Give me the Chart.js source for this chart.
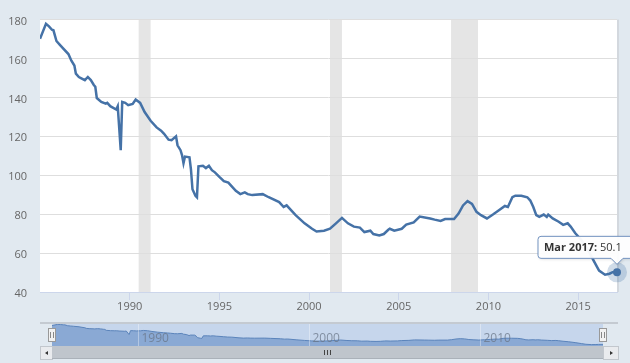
<!DOCTYPE html>
<html>
<head>
<meta charset="utf-8">
<script src="https://cdn.jsdelivr.net/npm/chart.js@4.4.0/dist/chart.umd.min.js"></script>
<style>
  html, body { margin: 0; padding: 0; background: #e1e9f0; }
  #wrap { position: relative; width: 630px; height: 363px; overflow: hidden; }
  #main { position: absolute; left: 0; top: 0; }
  #nav { position: absolute; left: 52px; top: 324px; }
  #outline { position: absolute; left: 40px; top: 322px; width: 578px; border-top: 2px solid #c4cad1; }
  .btn { position: absolute; top: 346px; height: 12px; background: #e9ebee; border: 1px solid #c2c7cd; box-sizing: content-box; }
  #btnLeft { left: 40px; width: 11px; }
  #btnRight { left: 603px; width: 14px; }
  .arrow { position: absolute; top: 4px; width: 0; height: 0; border-top: 2.5px solid transparent; border-bottom: 2.5px solid transparent; }
  #btnLeft .arrow { left: 4px; border-right: 3px solid #333; }
  #btnRight .arrow { left: 6px; border-left: 3px solid #333; }
  #track { position: absolute; left: 52px; top: 346px; width: 551px; height: 12px; background: #bfc5cc; border-bottom: 1px solid #aab1b9; }
  #grip { position: absolute; left: 272px; top: 4px; width: 7px; height: 5px;
          background: repeating-linear-gradient(90deg, #444 0 1px, transparent 1px 3px); }
  .handle { position: absolute; width: 6px; height: 12px; background: #f2f2f2; border: 1px solid #999; }
  .handle::before, .handle::after { content: ''; position: absolute; top: 3px; width: 1px; height: 6px; background: #888; }
  .handle::before { left: 1px; }
  .handle::after { left: 4px; }
  #handleL { left: 48px; top: 328px; }
  #handleR { left: 599px; top: 328px; }
</style>
</head>
<body>
<div id="wrap">
  <canvas id="main" width="630" height="363"></canvas>
  <div id="outline"></div>
  <canvas id="nav" width="551" height="22"></canvas>
  <div class="btn" id="btnLeft"><div class="arrow"></div></div>
  <div id="track"><div id="grip"></div></div>
  <div class="btn" id="btnRight"><div class="arrow"></div></div>
  <div class="handle" id="handleL"></div>
  <div class="handle" id="handleR"></div>
</div>
<script>
// ------------------------------------------------------
// data
// ------------------------------------------------------
const months = [
  '1985-01', '1985-05', '1985-07', '1985-09', '1985-10', '1985-12',
  '1986-02', '1986-04', '1986-08', '1986-10', '1986-12',
  '1987-01', '1987-03', '1987-05', '1987-07', '1987-09', '1987-11',
  '1988-01', '1988-02', '1988-03', '1988-06', '1988-09', '1988-10', '1988-12',
  '1989-04', '1989-05', '1989-07', '1989-08', '1989-10', '1989-12',
  '1990-03', '1990-05', '1990-08', '1990-11',
  '1991-03', '1991-07', '1991-10', '1991-12',
  '1992-03', '1992-05', '1992-08', '1992-09', '1992-11', '1992-12',
  '1993-01', '1993-02', '1993-05', '1993-06', '1993-07', '1993-09', '1993-10', '1993-11',
  '1994-02', '1994-04', '1994-06', '1994-08', '1994-10',
  '1995-01', '1995-04', '1995-07', '1995-12',
  '1996-03', '1996-06', '1996-08', '1996-11',
  '1997-06', '1997-10',
  '1998-05', '1998-08', '1998-10',
  '1999-04', '1999-10',
  '2000-03', '2000-06', '2000-11',
  '2001-03', '2001-07', '2001-11',
  '2002-03', '2002-07', '2002-11',
  '2003-02', '2003-06', '2003-08', '2003-12',
  '2004-03', '2004-06', '2004-07', '2004-10',
  '2005-03', '2005-06', '2005-11',
  '2006-03', '2006-10',
  '2007-01', '2007-05', '2007-08',
  '2008-02', '2008-05', '2008-08', '2008-11',
  '2009-02', '2009-05', '2009-08', '2009-12',
  '2010-04', '2010-08', '2010-12',
  '2011-02', '2011-05', '2011-07', '2011-11',
  '2012-03', '2012-05', '2012-07', '2012-09', '2012-11',
  '2013-02', '2013-04', '2013-05', '2013-08', '2013-12',
  '2014-03', '2014-06', '2014-08', '2014-11',
  '2015-03', '2015-08', '2015-12',
  '2016-03', '2016-07', '2016-10', '2016-12',
  '2017-03'
];
const values = [
  170.1, 177.8, 176.5, 174.8, 174.5, 169.0,
  167.3, 165.6, 162.3, 158.9, 156.4,
  152.2, 150.5, 149.7, 148.9, 150.5, 148.9,
  146.4, 145.5, 139.7, 137.7, 136.8, 137.2, 135.5,
  133.8, 135.5, 112.9, 137.7, 137.2, 136.0,
  136.7, 138.9, 137.2, 132.5,
  128.0, 124.6, 122.9, 121.3,
  118.3, 118.0, 120.0, 115.4, 112.9, 110.4,
  106.2, 109.6, 109.2, 102.9, 92.8, 89.5, 88.7, 104.6,
  104.9, 103.7, 104.9, 102.6, 101.5,
  99.2, 97.0, 96.2, 92.0,
  90.3, 91.2, 90.3, 89.8,
  90.3, 88.7,
  86.2, 83.7, 84.5,
  79.5, 75.3,
  72.5, 71.1, 71.5,
  72.5, 75.3, 78.1,
  75.3, 73.6, 73.1,
  70.8, 71.5, 69.8, 69.1,
  69.8, 72.0, 72.5, 71.5,
  72.5, 74.6, 75.8,
  78.8, 77.8,
  77.2, 76.5, 77.5,
  77.5, 80.3, 84.5, 86.7,
  85.3, 81.2, 79.5, 77.8,
  79.8, 82.0, 84.2,
  83.7, 88.7, 89.5, 89.5,
  88.7, 87.0, 83.7, 79.5, 78.6,
  79.8, 78.6, 79.8, 77.8, 76.1,
  74.5, 75.3, 73.6, 70.3,
  66.9, 61.0, 55.2,
  51.0, 48.9, 49.4, 50.2,
  50.1
];

const recessionStarts = ['1990-07', '2001-03', '2007-12'];
const recessionEnds   = ['1991-03', '2001-11', '2009-06'];

const xTickYears   = [1990, 1995, 2000, 2005, 2010, 2015];
const yTicks       = [40, 60, 80, 100, 120, 140, 160, 180];
const navTickYears = [1990, 2000, 2010];
const monthNames   = ['Jan', 'Feb', 'Mar', 'Apr', 'May', 'Jun', 'Jul', 'Aug', 'Sep', 'Oct', 'Nov', 'Dec'];

const LINE = '#4572a7';

const toYear = (s) => {
  const [y, m] = s.split('-').map(Number);
  return y + (m - 1) / 12;
};
const points = months.map((m, i) => ({ x: toYear(m), y: values[i] }));
const xMin = points[0].x;
const xMax = points[points.length - 1].x;

Chart.defaults.font.family = "'Open Sans', sans-serif";
Chart.defaults.font.size = 11;
Chart.defaults.color = '#666';

// ------------------------------------------------------
// @plugins
// ------------------------------------------------------
const plotBackground = {
  id: 'plotBackground',
  beforeDraw(chart) {
    const { ctx, chartArea: a, scales } = chart;
    ctx.save();
    ctx.fillStyle = '#ffffff';
    ctx.fillRect(a.left, a.top, a.right - a.left, a.bottom - a.top);
    ctx.fillStyle = '#e5e5e5';
    recessionStarts.forEach((s, i) => {
      const x1 = scales.x.getPixelForValue(toYear(s));
      const x2 = scales.x.getPixelForValue(toYear(recessionEnds[i]));
      ctx.fillRect(x1, a.top, x2 - x1, a.bottom - a.top);
    });
    ctx.restore();
  },
  afterDraw(chart) {
    const { ctx, chartArea: a } = chart;
    ctx.save();
    ctx.fillStyle = '#d3d8de';
    ctx.fillRect(a.right, a.top, 2, a.bottom - a.top);
    ctx.restore();
  },
};

const lastPointTip = {
  id: 'lastPointTip',
  afterDraw(chart) {
    const { ctx, scales } = chart;
    const last = points.length - 1;
    const px = scales.x.getPixelForValue(points[last].x);
    const py = scales.y.getPixelForValue(points[last].y);

    ctx.save();
    // halo + marker
    ctx.beginPath();
    ctx.arc(px, py, 10, 0, Math.PI * 2);
    ctx.fillStyle = 'rgba(69,114,167,0.25)';
    ctx.fill();
    ctx.beginPath();
    ctx.arc(px, py, 4, 0, Math.PI * 2);
    ctx.fillStyle = LINE;
    ctx.fill();

    // callout box
    const left = px - 79, top = py - 36, w = 130, h = 22, r = 3;
    const bottom = top + h;
    ctx.beginPath();
    ctx.moveTo(left + r, top);
    ctx.lineTo(left + w - r, top);
    ctx.arcTo(left + w, top, left + w, top + r, r);
    ctx.lineTo(left + w, bottom - r);
    ctx.arcTo(left + w, bottom, left + w - r, bottom, r);
    ctx.lineTo(px + 6, bottom);
    ctx.lineTo(px, bottom + 6);
    ctx.lineTo(px - 6, bottom);
    ctx.lineTo(left + r, bottom);
    ctx.arcTo(left, bottom, left, bottom - r, r);
    ctx.lineTo(left, top + r);
    ctx.arcTo(left, top, left + r, top, r);
    ctx.closePath();
    ctx.shadowColor = 'rgba(0,0,0,0.15)';
    ctx.shadowOffsetX = 1;
    ctx.shadowOffsetY = 1;
    ctx.shadowBlur = 3;
    ctx.fillStyle = 'rgba(255,255,255,0.95)';
    ctx.fill();
    ctx.shadowColor = 'transparent';
    ctx.strokeStyle = '#7393c0';
    ctx.lineWidth = 1;
    ctx.stroke();

    // text
    const [yy, mm] = months[last].split('-').map(Number);
    const label = monthNames[mm - 1] + ' ' + yy + ':';
    ctx.fillStyle = '#333';
    ctx.textBaseline = 'middle';
    ctx.font = "bold 11px 'Open Sans', sans-serif";
    ctx.fillText(label, left + 6, top + h / 2 + 1);
    const lw = ctx.measureText(label).width;
    ctx.font = "11px 'Open Sans', sans-serif";
    ctx.fillText(' ' + values[last].toFixed(1), left + 6 + lw, top + h / 2 + 1);
    ctx.restore();
  },
};

// ------------------------------------------------------
// @Main line chart
// ------------------------------------------------------
new Chart(document.getElementById('main').getContext('2d'), {
  type: 'line',
  data: {
    datasets: [{
      data        : points,
      borderColor : LINE,
      borderWidth : 2.5,
      pointRadius : 0,
      tension     : 0,
      fill        : false,
    }],
  },
  options: {
    responsive: false,
    animation: false,
    events: [],
    layout: { padding: { top: 13, right: 13, bottom: 41, left: 0 } },
    plugins: { legend: { display: false }, tooltip: { enabled: false } },
    scales: {
      x: {
        type: 'linear',
        min: xMin,
        max: xMax,
        afterFit: (s) => { s.height = 30; },
        afterBuildTicks: (s) => { s.ticks = xTickYears.map((v) => ({ value: v })); },
        ticks: { padding: 0, maxRotation: 0, callback: (v) => String(v) },
        grid: { drawOnChartArea: false, color: '#ccd6eb', tickLength: 8 },
        border: { color: '#ccd6eb' },
      },
      y: {
        min: 40,
        max: 180,
        afterFit: (s) => { s.width = 40; },
        afterBuildTicks: (s) => { s.ticks = yTicks.map((v) => ({ value: v })); },
        ticks: { padding: 13, labelOffset: 2 },
        grid: { color: '#dedede', drawTicks: false },
        border: { display: false },
      },
    },
  },
  plugins: [plotBackground, lastPointTip],
});

// ------------------------------------------------------
// @Navigator
// ------------------------------------------------------
const navDecor = {
  id: 'navDecor',
  beforeDraw(chart) {
    const { ctx, width, height } = chart;
    ctx.save();
    ctx.fillStyle = '#c6d6ec';
    ctx.fillRect(0, 0, width, height);
    ctx.restore();
  },
  afterDatasetsDraw(chart) {
    const { ctx, scales, height } = chart;
    ctx.save();
    ctx.font = "12px 'Open Sans', sans-serif";
    ctx.textBaseline = 'middle';
    navTickYears.forEach((yr) => {
      const x = Math.round(scales.x.getPixelForValue(yr)) + 0.5;
      ctx.strokeStyle = 'rgba(255,255,255,0.35)';
      ctx.beginPath();
      ctx.moveTo(x, 0);
      ctx.lineTo(x, height);
      ctx.stroke();
      ctx.fillStyle = 'rgba(105,118,135,0.75)';
      ctx.fillText(String(yr), x + 3, 15);
    });
    ctx.restore();
  },
};

new Chart(document.getElementById('nav').getContext('2d'), {
  type: 'line',
  data: {
    datasets: [{
      data            : points,
      borderColor     : '#5b84bb',
      backgroundColor : '#8aa9d4',
      borderWidth     : 1,
      pointRadius     : 0,
      fill            : 'start',
    }],
  },
  options: {
    responsive: false,
    animation: false,
    events: [],
    layout: { padding: 0 },
    plugins: { legend: { display: false }, tooltip: { enabled: false } },
    scales: {
      x: { type: 'linear', min: xMin, max: xMax, display: false },
      y: { min: 40, max: 180, display: false },
    },
  },
  plugins: [navDecor],
});
</script>
</body>
</html>
